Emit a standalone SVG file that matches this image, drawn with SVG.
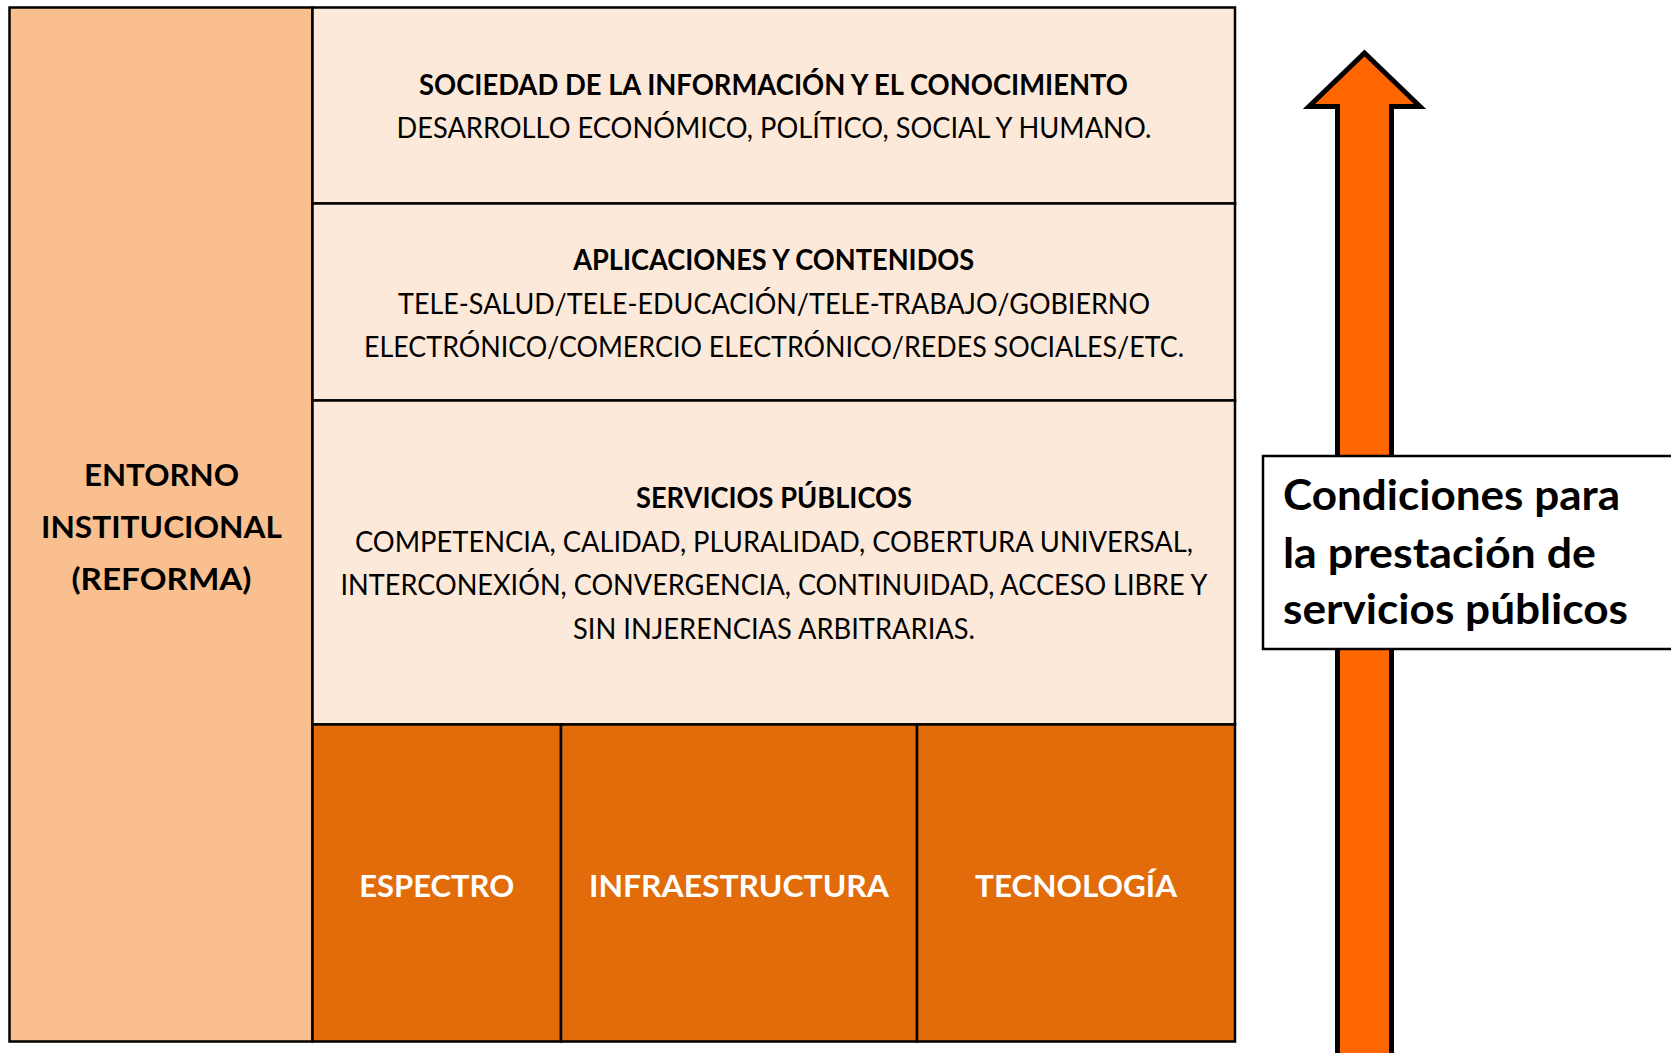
<svg xmlns="http://www.w3.org/2000/svg" width="1671" height="1053" viewBox="0 0 1671 1053">
<style>
.t{font-family:Lato,"Open Sans","Liberation Sans",sans-serif;fill:#000}
.b{font-weight:bold}
.c{text-anchor:middle}
.box{stroke:#000;stroke-width:2.5}
.w{fill:#fff}
</style>
<rect x="0" y="0" width="1671" height="1053" fill="#fff"/>
<g id="entorno">
<rect class="box" x="9.5" y="7.5" width="303" height="1034" fill="#FABF8F"/>
<text class="t b c" font-size="31" x="161.5" y="486" textLength="155" lengthAdjust="spacingAndGlyphs">ENTORNO</text>
<text class="t b c" font-size="31" x="161.5" y="538" textLength="241" lengthAdjust="spacingAndGlyphs">INSTITUCIONAL</text>
<text class="t b c" font-size="31" x="161.5" y="590" textLength="180" lengthAdjust="spacingAndGlyphs">(REFORMA)</text>
</g>
<g id="sociedad">
<rect class="box" x="312.5" y="7.5" width="922.5" height="196" fill="#FDE9D9"/>
<text class="t b c" font-size="29" x="773.5" y="95" textLength="709" lengthAdjust="spacingAndGlyphs">SOCIEDAD DE LA INFORMACIÓN Y EL CONOCIMIENTO</text>
<text class="t c" font-size="29" x="774" y="138" textLength="755" lengthAdjust="spacingAndGlyphs">DESARROLLO ECONÓMICO, POLÍTICO, SOCIAL Y HUMANO.</text>
</g>
<g id="aplicaciones">
<rect class="box" x="312.5" y="203.5" width="922.5" height="197" fill="#FDE9D9"/>
<text class="t b c" font-size="29" x="773.7" y="270" textLength="401" lengthAdjust="spacingAndGlyphs">APLICACIONES Y CONTENIDOS</text>
<text class="t c" font-size="29" x="774" y="314" textLength="752" lengthAdjust="spacingAndGlyphs">TELE-SALUD/TELE-EDUCACIÓN/TELE-TRABAJO/GOBIERNO</text>
<text class="t c" font-size="29" x="774" y="357" textLength="820" lengthAdjust="spacingAndGlyphs">ELECTRÓNICO/COMERCIO ELECTRÓNICO/REDES SOCIALES/ETC.</text>
</g>
<g id="servicios">
<rect class="box" x="312.5" y="400.5" width="922.5" height="324" fill="#FDE9D9"/>
<text class="t b c" font-size="29" x="774" y="507.7" textLength="276" lengthAdjust="spacingAndGlyphs">SERVICIOS PÚBLICOS</text>
<text class="t c" font-size="29" x="774" y="551.7" textLength="838" lengthAdjust="spacingAndGlyphs">COMPETENCIA, CALIDAD, PLURALIDAD, COBERTURA UNIVERSAL,</text>
<text class="t c" font-size="29" x="774" y="595" textLength="867" lengthAdjust="spacingAndGlyphs">INTERCONEXIÓN, CONVERGENCIA, CONTINUIDAD, ACCESO LIBRE Y</text>
<text class="t c" font-size="29" x="774" y="639" textLength="402" lengthAdjust="spacingAndGlyphs">SIN INJERENCIAS ARBITRARIAS.</text>
</g>
<g id="espectro">
<rect class="box" x="312.5" y="724.5" width="248.5" height="317" fill="#E36C0A"/>
<text class="t b c w" font-size="31" x="436.7" y="896.7" textLength="155" lengthAdjust="spacingAndGlyphs">ESPECTRO</text>
</g>
<g id="infraestructura">
<rect class="box" x="561" y="724.5" width="356" height="317" fill="#E36C0A"/>
<text class="t b c w" font-size="31" x="739" y="896.7" textLength="300" lengthAdjust="spacingAndGlyphs">INFRAESTRUCTURA</text>
</g>
<g id="tecnologia">
<rect class="box" x="917" y="724.5" width="318" height="317" fill="#E36C0A"/>
<text class="t b c w" font-size="31" x="1076" y="896.7" textLength="202" lengthAdjust="spacingAndGlyphs">TECNOLOGÍA</text>
</g>
<g id="connectors">
<polygon points="1364.5,53 1420,106.5 1391.5,106.5 1391.5,1070 1337.5,1070 1337.5,106.5 1309,106.5" fill="#FF6600" stroke="#000" stroke-width="5" stroke-linejoin="miter"/>
</g>
<g id="condiciones">
<rect x="1263" y="456" width="430" height="193" fill="#fff" stroke="#000" stroke-width="2.5"/>
<text class="t b" font-size="42" x="1283" y="510" textLength="337" lengthAdjust="spacingAndGlyphs">Condiciones para</text>
<text class="t b" font-size="42" x="1283" y="567.5" textLength="313" lengthAdjust="spacingAndGlyphs">la prestación de</text>
<text class="t b" font-size="42" x="1283" y="623.5" textLength="345" lengthAdjust="spacingAndGlyphs">servicios públicos</text>
</g>
</svg>
